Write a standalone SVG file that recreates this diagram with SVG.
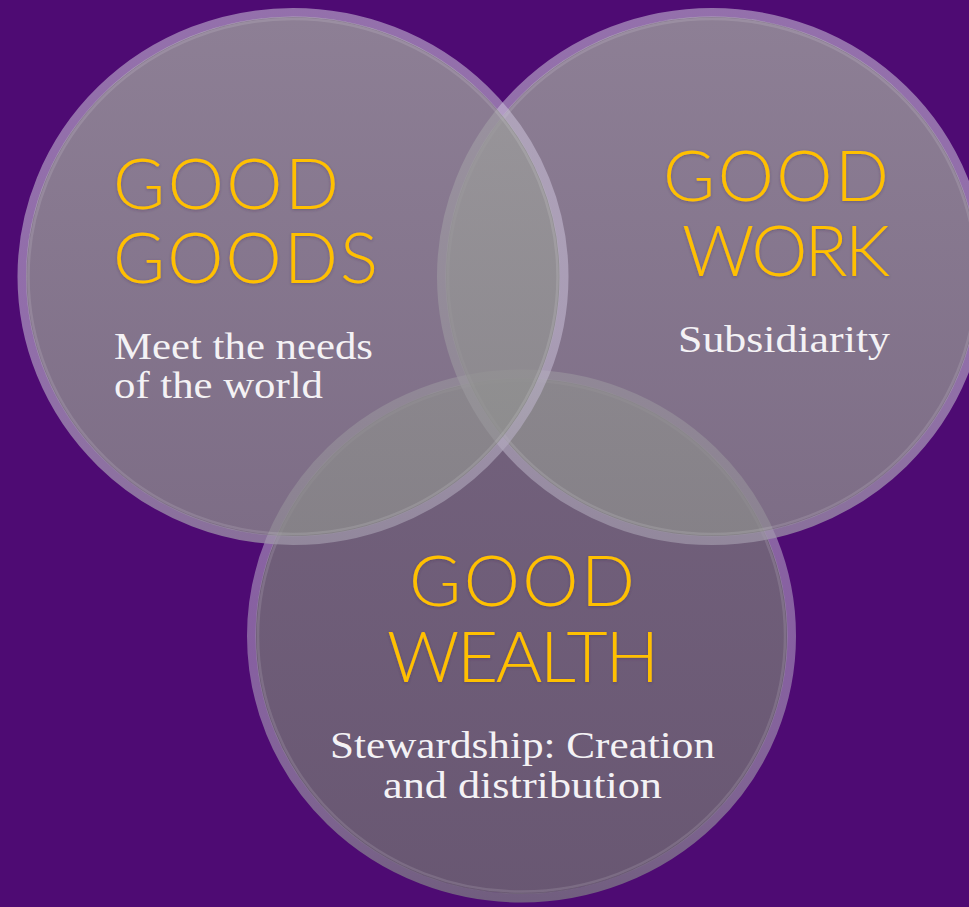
<svg xmlns="http://www.w3.org/2000/svg" width="969" height="907" viewBox="0 0 969 907">
  <defs>
    <linearGradient id="fill12" x1="0" y1="0" x2="0" y2="1">
      <stop offset="0" stop-color="rgb(158,158,158)" stop-opacity="0.79"/>
      <stop offset="1" stop-color="rgb(140,140,140)" stop-opacity="0.76"/>
    </linearGradient>
    <linearGradient id="fill3" x1="0" y1="0" x2="0" y2="1">
      <stop offset="0" stop-color="rgb(128,128,128)" stop-opacity="0.74"/>
      <stop offset="1" stop-color="rgb(114,114,114)" stop-opacity="0.74"/>
    </linearGradient>
    <linearGradient id="ring12" x1="0" y1="0" x2="0" y2="1">
      <stop offset="0" stop-color="rgb(205,195,218)" stop-opacity="0.55"/>
      <stop offset="0.6" stop-color="rgb(200,190,215)" stop-opacity="0.55"/>
      <stop offset="1" stop-color="rgb(160,152,170)" stop-opacity="0.72"/>
    </linearGradient>
    <linearGradient id="ring3" x1="0" y1="0" x2="0" y2="1">
      <stop offset="0" stop-color="rgb(205,195,218)" stop-opacity="0.5"/>
      <stop offset="0.55" stop-color="rgb(190,180,205)" stop-opacity="0.5"/>
      <stop offset="1" stop-color="rgb(122,115,130)" stop-opacity="0.8"/>
    </linearGradient>
    <filter id="glow" x="-10%" y="-20%" width="120%" height="140%">
      <feDropShadow dx="0" dy="1" stdDeviation="1.5" flood-color="#3b2a48" flood-opacity="0.35"/>
    </filter>
  </defs>
  <style>
    .fill12 { fill: url(#fill12); }
    .fill3 { fill: url(#fill3); }
    .ring12 { fill: none; stroke: url(#ring12); stroke-width: 9; }
    .ring3 { fill: none; stroke: url(#ring3); stroke-width: 9; }
    .bevel { fill: none; stroke: #ffffff; stroke-opacity: 0.12; stroke-width: 2.5; }
    .title { font-family: Lato, "Liberation Sans", sans-serif; font-weight: 300; font-size: 71px; fill: #FFC000; }
    .sub { font-family: "Liberation Serif", serif; font-size: 37px; fill: #F4F2F5; }
  </style>
  <rect width="969" height="907" fill="#4E0B73"/>

  <g id="node-good-wealth">
    <ellipse class="fill3" cx="521.5" cy="636" rx="266" ry="258"/>
    <ellipse class="ring3" cx="521.5" cy="636" rx="270" ry="262"/>
    <ellipse class="bevel" cx="521.5" cy="636" rx="263.5" ry="255.5"/>
    <g filter="url(#glow)">
      <text class="title" x="409" y="606" textLength="226">GOOD</text>
      <text class="title" x="387" y="682" textLength="272">WEALTH</text>
    </g>
    <text class="sub" x="330" y="758" textLength="385" lengthAdjust="spacingAndGlyphs">Stewardship: Creation</text>
    <text class="sub" x="383" y="798" textLength="279" lengthAdjust="spacingAndGlyphs">and distribution</text>
  </g>

  <g id="node-good-work">
    <ellipse class="fill12" cx="712" cy="276.5" rx="266.5" ry="260"/>
    <ellipse class="ring12" cx="712" cy="276.5" rx="270.5" ry="264"/>
    <ellipse class="bevel" cx="712" cy="276.5" rx="264" ry="257.5"/>
    <g filter="url(#glow)">
      <text class="title" x="663" y="201" textLength="226">GOOD</text>
      <text class="title" x="682" y="276" textLength="208">WORK</text>
    </g>
    <text class="sub" x="678" y="352" textLength="212" lengthAdjust="spacingAndGlyphs">Subsidiarity</text>
  </g>

  <g id="node-good-goods">
    <ellipse class="fill12" cx="293" cy="276.5" rx="267" ry="260"/>
    <ellipse class="ring12" cx="293" cy="276.5" rx="271" ry="264"/>
    <ellipse class="bevel" cx="293" cy="276.5" rx="264.5" ry="257.5"/>
    <g filter="url(#glow)">
      <text class="title" x="113" y="209" textLength="226">GOOD</text>
      <text class="title" x="113" y="283" textLength="265">GOODS</text>
    </g>
    <text class="sub" x="114" y="359" textLength="259" lengthAdjust="spacingAndGlyphs">Meet the needs</text>
    <text class="sub" x="114" y="398" textLength="209" lengthAdjust="spacingAndGlyphs">of the world</text>
  </g>

  <g id="connectors"/>
</svg>
